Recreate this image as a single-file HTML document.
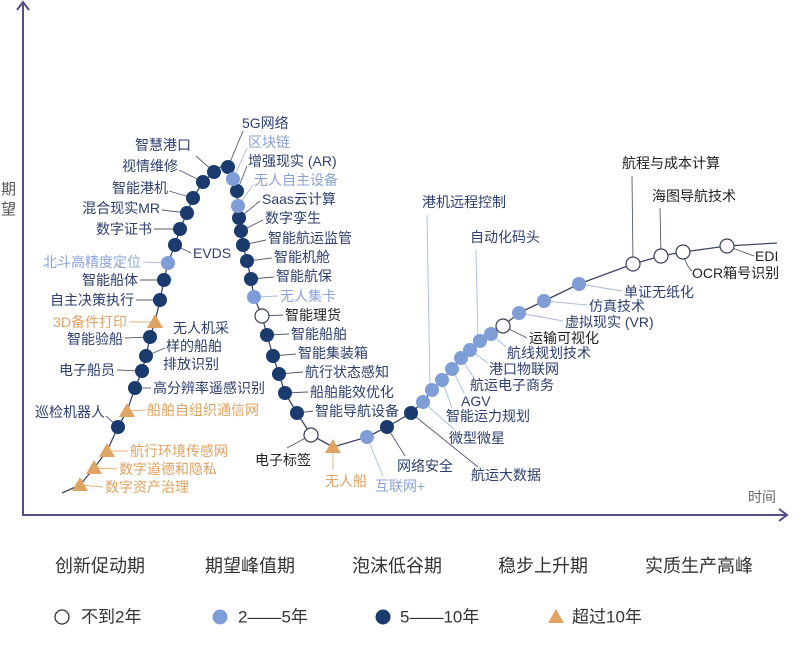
<!DOCTYPE html>
<html><head><meta charset="utf-8"><style>
html,body{margin:0;padding:0;background:#fff;}
svg{display:block;font-family:"Liberation Sans","Noto Sans CJK SC",sans-serif;}
.k{fill:#2c3f6e;font-size:14px;}
.l{fill:#8aa3d6;font-size:14px;}
.o{fill:#dea362;font-size:14px;}
.b{fill:#222;font-size:14px;}
.ln{stroke:#555a70;stroke-width:0.9;fill:none;}
.ll{stroke:#a9bbe0;stroke-width:0.9;fill:none;}
.lo{stroke:#e0b27a;stroke-width:0.9;fill:none;}
.d{fill:#1b3a6e;}
.lt{fill:#7f9dd6;}
.op{fill:#fff;stroke:#3a3f55;stroke-width:1.2;}
.tr{fill:#e0a462;}
</style></head><body>
<svg width="800" height="647" viewBox="0 0 800 647" xmlns="http://www.w3.org/2000/svg">
<line x1="23" y1="3" x2="23" y2="515" stroke="#554d86" stroke-width="2"/>
<polyline points="17,10 23,2 29,10" fill="none" stroke="#554d86" stroke-width="2"/>
<line x1="22" y1="515" x2="786" y2="515" stroke="#554d86" stroke-width="2"/>
<polyline points="779,509 787,515 779,521" fill="none" stroke="#554d86" stroke-width="2"/>
<text x="1" y="194" font-size="15" fill="#555">期</text>
<text x="1" y="214" font-size="15" fill="#555">望</text>
<text x="748" y="502" font-size="14" fill="#666">时间</text>

<path d="M62,493 L80,485 L94,468 L107,451 L118,427 L127,411 L135,388 L142,371 L146,356 L150,337 L155,322 L160,300 L164,280 L168,263 L175,245 L180,229 L187,213 L193,198 L203,182 L214,172 L222,166 L228,167 L233,179 L237,191 L238,206 L239,218 L241,231 L243,245 L247,261 L251,279 L254,297 L262,316 L267,335 L273,356 L279,374 L285,393 L297,413 L311,435 L333,447 L367,437 L387,427 L411,413 L423,402 L432,390 L442,380 L452,369 L461,358 L470,350 L480,341 L491,334 L503,326 L519,313 L544,301 L579,284 L633,264 L661,256 L683,252 L727,246 L777,243" fill="none" stroke="#3d4666" stroke-width="1.3" stroke-linejoin="round"/>

<g class="ln">
<line x1="214" y1="172" x2="196" y2="156"/>
<line x1="203" y1="182" x2="179" y2="170"/>
<line x1="193" y1="198" x2="169" y2="191"/>
<line x1="187" y1="213" x2="162" y2="210"/>
<line x1="180" y1="229" x2="154" y2="229"/>
<line x1="175" y1="245" x2="191" y2="253"/>
<line x1="164" y1="280" x2="140" y2="280"/>
<line x1="160" y1="300" x2="136" y2="300"/>
<line x1="150" y1="337" x2="125" y2="338"/>
<line x1="146" y1="356" x2="165" y2="348"/>
<line x1="142" y1="371" x2="117" y2="370"/>
<line x1="135" y1="388" x2="151" y2="388"/>
<line x1="118" y1="427" x2="106" y2="416"/>
<line x1="228" y1="167" x2="243" y2="131"/>
<line x1="237" y1="191" x2="247" y2="166"/>
<line x1="239" y1="218" x2="260" y2="201"/>
<line x1="241" y1="231" x2="263" y2="220"/>
<line x1="243" y1="245" x2="266" y2="240"/>
<line x1="247" y1="261" x2="272" y2="258"/>
<line x1="251" y1="279" x2="274" y2="277"/>
<line x1="262" y1="316" x2="283" y2="315"/>
<line x1="267" y1="335" x2="289" y2="334"/>
<line x1="273" y1="356" x2="296" y2="354"/>
<line x1="279" y1="374" x2="303" y2="372"/>
<line x1="285" y1="393" x2="308" y2="392"/>
<line x1="297" y1="413" x2="313" y2="411"/>
<line x1="311" y1="435" x2="287" y2="448"/>
<line x1="387" y1="427" x2="405" y2="456"/>
<line x1="411" y1="413" x2="478" y2="467"/>
<line x1="503" y1="326" x2="527" y2="338"/>
<line x1="633" y1="264" x2="632" y2="176"/>
<line x1="661" y1="256" x2="660" y2="208"/>
<path d="M683,252 Q686,266 692,271"/>
<line x1="727" y1="246" x2="754" y2="256"/>
</g>
<g class="ll">
<line x1="168" y1="263" x2="143" y2="262"/>
<line x1="233" y1="179" x2="247" y2="148"/>
<line x1="238" y1="206" x2="253" y2="185"/>
<line x1="254" y1="297" x2="278" y2="296"/>
<line x1="367" y1="437" x2="383" y2="476"/>
<line x1="423" y1="402" x2="455" y2="430"/>
<line x1="427" y1="215" x2="430" y2="385"/>
<line x1="442" y1="380" x2="452" y2="408"/>
<line x1="452" y1="369" x2="464" y2="393"/>
<line x1="461" y1="358" x2="474" y2="378"/>
<line x1="476" y1="250" x2="478" y2="340"/>
<line x1="470" y1="350" x2="488" y2="363"/>
<line x1="491" y1="334" x2="506" y2="347"/>
<line x1="519" y1="313" x2="563" y2="321"/>
<line x1="544" y1="301" x2="587" y2="305"/>
<line x1="579" y1="284" x2="622" y2="291"/>
</g>
<g class="lo">
<line x1="155" y1="322" x2="129" y2="322"/>
<line x1="127" y1="411" x2="146" y2="410"/>
<line x1="107" y1="451" x2="128" y2="451"/>
<line x1="94" y1="468" x2="117" y2="469"/>
<line x1="80" y1="485" x2="103" y2="487"/>
<line x1="333" y1="452" x2="333" y2="470"/>
</g>

<g class="tr">
<polygon points="80,477 88,491 72,491"/>
<polygon points="94,460 102,474 86,474"/>
<polygon points="107,443 115,457 99,457"/>
<polygon points="127,403 135,417 119,417"/>
<polygon points="155,314 163,328 147,328"/>
<polygon points="333,439 341,453 325,453"/>
</g>
<g class="d">
<circle cx="118" cy="427" r="7"/><circle cx="135" cy="388" r="7"/><circle cx="142" cy="371" r="7"/>
<circle cx="146" cy="356" r="7"/><circle cx="150" cy="337" r="7"/><circle cx="160" cy="300" r="7"/>
<circle cx="164" cy="280" r="7"/><circle cx="175" cy="245" r="7"/><circle cx="180" cy="229" r="7"/>
<circle cx="187" cy="213" r="7"/><circle cx="193" cy="198" r="7"/><circle cx="203" cy="182" r="7"/>
<circle cx="214" cy="172" r="7"/><circle cx="228" cy="167" r="7"/><circle cx="237" cy="191" r="7"/>
<circle cx="239" cy="218" r="7"/><circle cx="241" cy="231" r="7"/><circle cx="243" cy="245" r="7"/>
<circle cx="247" cy="261" r="7"/><circle cx="251" cy="279" r="7"/><circle cx="267" cy="335" r="7"/>
<circle cx="273" cy="356" r="7"/><circle cx="279" cy="374" r="7"/><circle cx="285" cy="393" r="7"/>
<circle cx="297" cy="413" r="7"/><circle cx="387" cy="427" r="7"/><circle cx="411" cy="413" r="7"/>
</g>
<g class="lt">
<circle cx="168" cy="263" r="7"/><circle cx="233" cy="179" r="7"/><circle cx="238" cy="206" r="7"/>
<circle cx="254" cy="297" r="7"/><circle cx="367" cy="437" r="7"/><circle cx="423" cy="402" r="7"/>
<circle cx="432" cy="390" r="7"/><circle cx="442" cy="380" r="7"/><circle cx="452" cy="369" r="7"/>
<circle cx="461" cy="358" r="7"/><circle cx="470" cy="350" r="7"/><circle cx="480" cy="341" r="7"/>
<circle cx="491" cy="334" r="7"/><circle cx="519" cy="313" r="7"/><circle cx="544" cy="301" r="7"/>
<circle cx="579" cy="284" r="7"/>
</g>
<g class="op">
<circle cx="262" cy="316" r="7"/><circle cx="311" cy="435" r="7"/><circle cx="503" cy="326" r="7"/>
<circle cx="633" cy="264" r="7"/><circle cx="661" cy="256" r="7"/><circle cx="683" cy="252" r="7"/>
<circle cx="727" cy="246" r="7"/>
</g>

<g dominant-baseline="central">
<text class="k" x="242" y="123">5G网络</text>
<text class="k" x="191" y="145" text-anchor="end">智慧港口</text>
<text class="k" x="178" y="166" text-anchor="end">视情维修</text>
<text class="k" x="168" y="188" text-anchor="end">智能港机</text>
<text class="k" x="160" y="208" text-anchor="end">混合现实MR</text>
<text class="k" x="152" y="229" text-anchor="end">数字证书</text>
<text class="k" x="193" y="253">EVDS</text>
<text class="l" x="141" y="262" text-anchor="end">北斗高精度定位</text>
<text class="k" x="138" y="280" text-anchor="end">智能船体</text>
<text class="k" x="134" y="300" text-anchor="end">自主决策执行</text>
<text class="o" x="127" y="322" text-anchor="end">3D备件打印</text>
<text class="k" x="173" y="328">无人机采</text>
<text class="k" x="166" y="346">样的船舶</text>
<text class="k" x="163" y="364">排放识别</text>
<text class="k" x="123" y="339" text-anchor="end">智能验船</text>
<text class="k" x="115" y="370" text-anchor="end">电子船员</text>
<text class="k" x="153" y="388">高分辨率遥感识别</text>
<text class="o" x="147" y="410">船舶自组织通信网</text>
<text class="k" x="105" y="412" text-anchor="end">巡检机器人</text>
<text class="o" x="130" y="451">航行环境传感网</text>
<text class="o" x="119" y="469">数字道德和隐私</text>
<text class="o" x="105" y="487">数字资产治理</text>

<text class="l" x="248" y="142">区块链</text>
<text class="k" x="248" y="161">增强现实 (AR)</text>
<text class="l" x="254" y="180">无人自主设备</text>
<text class="k" x="262" y="199">Saas云计算</text>
<text class="k" x="265" y="218">数字孪生</text>
<text class="k" x="268" y="238">智能航运监管</text>
<text class="k" x="274" y="257">智能机舱</text>
<text class="k" x="276" y="276">智能航保</text>
<text class="l" x="280" y="296">无人集卡</text>
<text class="b" x="285" y="315">智能理货</text>
<text class="k" x="291" y="334">智能船舶</text>
<text class="k" x="298" y="353">智能集装箱</text>
<text class="k" x="305" y="372">航行状态感知</text>
<text class="k" x="310" y="392">船舶能效优化</text>
<text class="k" x="315" y="411">智能导航设备</text>
<text class="b" x="311" y="460" text-anchor="end">电子标签</text>
<text class="o" x="325" y="481">无人船</text>
<text class="l" x="375" y="486">互联网+</text>
<text class="k" x="397" y="466">网络安全</text>
<text class="k" x="471" y="475">航运大数据</text>
<text class="k" x="449" y="438">微型微星</text>
<text class="k" x="446" y="416">智能运力规划</text>
<text class="k" x="461" y="401">AGV</text>
<text class="k" x="470" y="385">航运电子商务</text>
<text class="k" x="489" y="369">港口物联网</text>
<text class="k" x="507" y="353">航线规划技术</text>
<text class="b" x="529" y="338">运输可视化</text>
<text class="k" x="565" y="322">虚拟现实 (VR)</text>
<text class="k" x="589" y="306">仿真技术</text>
<text class="k" x="624" y="292">单证无纸化</text>
<text class="k" x="422" y="202">港机远程控制</text>
<text class="k" x="470" y="237">自动化码头</text>
<text class="b" x="622" y="163">航程与成本计算</text>
<text class="b" x="652" y="196">海图导航技术</text>
<text class="b" x="692" y="273">OCR箱号识别</text>
<text class="b" x="755" y="256">EDI</text>
</g>

<g font-size="18" fill="#333" dominant-baseline="central">
<text x="55" y="566">创新促动期</text>
<text x="205" y="566">期望峰值期</text>
<text x="352" y="566">泡沫低谷期</text>
<text x="498" y="566">稳步上升期</text>
<text x="645" y="566">实质生产高峰</text>
</g>
<circle cx="62" cy="617" r="7" fill="#fff" stroke="#333" stroke-width="1.3"/>
<circle cx="220" cy="617" r="7.5" fill="#7f9dd6"/>
<circle cx="383" cy="617" r="7.5" fill="#1b3a6e"/>
<polygon points="556,609 564,623 548,623" fill="#e0a462"/>
<g font-size="17" fill="#333" dominant-baseline="central">
<text x="81" y="617">不到2年</text>
<text x="238" y="617">2——5年</text>
<text x="400" y="617">5——10年</text>
<text x="572" y="617">超过10年</text>
</g>
</svg>
</body></html>
